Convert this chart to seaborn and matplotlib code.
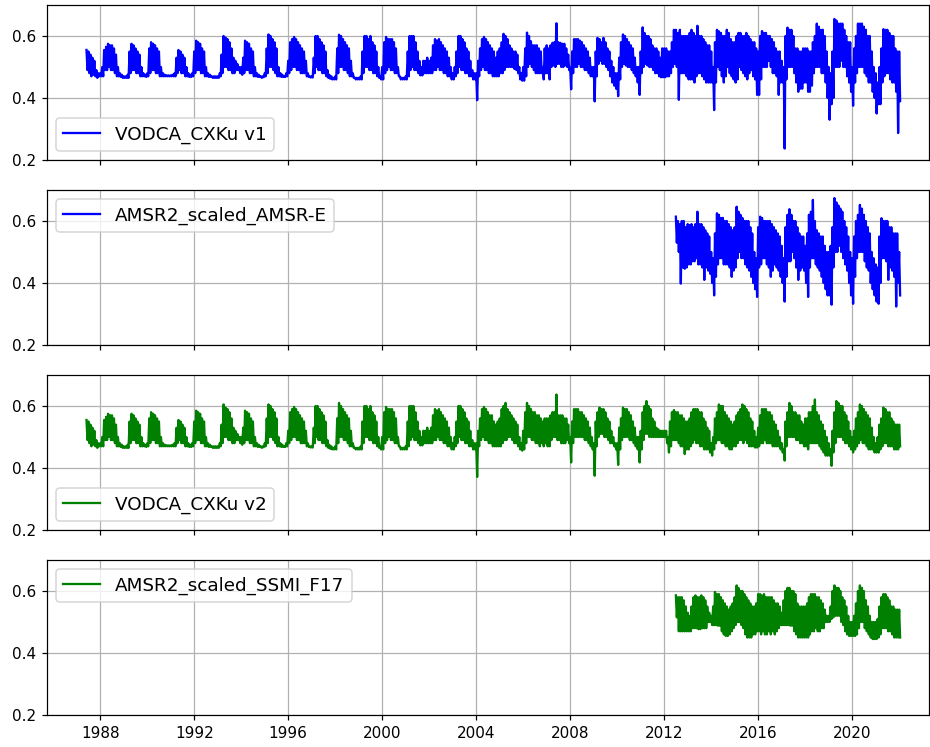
import numpy as np
import pandas as pd
import matplotlib
matplotlib.use("Agg")
import matplotlib.pyplot as plt
import matplotlib.dates as mdates
import seaborn as sns

# ---------------- data: monthly upper / lower excursions ----------------
# VODCA_CXKu v1, months from 1987-06 to 2022-01
v1_start = "1987-06-01"
v1_hi = [
    0.555, 0.55, 0.54, 0.53, 0.52, 0.49, 0.48,
    0.48, 0.50, 0.555, 0.565, 0.575, 0.57, 0.57, 0.56, 0.54, 0.50, 0.48, 0.475,
    0.47, 0.47, 0.475, 0.55, 0.575, 0.57, 0.56, 0.55, 0.54, 0.50, 0.48, 0.475,
    0.48, 0.56, 0.58, 0.575, 0.57, 0.56, 0.55, 0.50, 0.48, 0.475, 0.473, 0.473,
    0.473, 0.475, 0.48, 0.53, 0.555, 0.55, 0.54, 0.53, 0.50, 0.48, 0.475, 0.48,
    0.55, 0.585, 0.58, 0.575, 0.56, 0.55, 0.50, 0.48, 0.475, 0.47, 0.47, 0.47,
    0.47, 0.48, 0.54, 0.60, 0.595, 0.59, 0.58, 0.56, 0.53, 0.52, 0.51, 0.50,
    0.50, 0.53, 0.585, 0.58, 0.575, 0.56, 0.55, 0.50, 0.48, 0.475, 0.47, 0.47,
    0.48, 0.56, 0.605, 0.60, 0.59, 0.58, 0.56, 0.50, 0.48, 0.475, 0.47, 0.48,
    0.52, 0.58, 0.59, 0.597, 0.59, 0.58, 0.57, 0.56, 0.55, 0.52, 0.48, 0.47,
    0.47, 0.53, 0.60, 0.60, 0.59, 0.58, 0.57, 0.55, 0.49, 0.475, 0.47, 0.465,
    0.47, 0.56, 0.604, 0.60, 0.59, 0.58, 0.57, 0.56, 0.52, 0.48, 0.465, 0.465,
    0.465, 0.47, 0.55, 0.60, 0.60, 0.59, 0.60, 0.58, 0.57, 0.55, 0.50, 0.47,
    0.50, 0.58, 0.597, 0.59, 0.59, 0.59, 0.58, 0.56, 0.50, 0.47, 0.465, 0.465,
    0.47, 0.55, 0.60, 0.60, 0.60, 0.58, 0.55, 0.52, 0.50, 0.52, 0.52, 0.53,
    0.52, 0.53, 0.57, 0.59, 0.585, 0.59, 0.58, 0.57, 0.56, 0.55, 0.53, 0.50,
    0.48, 0.50, 0.55, 0.60, 0.60, 0.59, 0.58, 0.56, 0.55, 0.52, 0.49, 0.48,
    0.48, 0.52, 0.56, 0.59, 0.597, 0.59, 0.58, 0.57, 0.56, 0.55, 0.53, 0.55,
    0.56, 0.58, 0.607, 0.60, 0.59, 0.57, 0.56, 0.55, 0.55, 0.54, 0.50, 0.48,
    0.50, 0.56, 0.611, 0.60, 0.583, 0.57, 0.57, 0.57, 0.56, 0.55, 0.50, 0.56,
    0.57, 0.56, 0.57, 0.578, 0.58, 0.641, 0.58, 0.578, 0.575, 0.575, 0.56, 0.54,
    0.50, 0.55, 0.59, 0.59, 0.59, 0.585, 0.58, 0.57, 0.56, 0.55, 0.53, 0.50,
    0.50, 0.55, 0.594, 0.59, 0.58, 0.594, 0.58, 0.56, 0.55, 0.52, 0.50, 0.48,
    0.48, 0.53, 0.58, 0.605, 0.60, 0.59, 0.58, 0.57, 0.56, 0.53, 0.50, 0.50,
    0.55, 0.628, 0.61, 0.60, 0.60, 0.59, 0.57, 0.56, 0.56, 0.55, 0.53, 0.56,
    0.56, 0.56, 0.55, 0.55, 0.58, 0.62, 0.62, 0.61, 0.62, 0.60, 0.60, 0.60,
    0.60, 0.61, 0.62, 0.61, 0.60, 0.633, 0.60, 0.60, 0.59, 0.58, 0.57, 0.57,
    0.55, 0.50, 0.58, 0.62, 0.615, 0.61, 0.60, 0.60, 0.62, 0.61, 0.59, 0.58,
    0.58, 0.60, 0.61, 0.61, 0.60, 0.60, 0.61, 0.60, 0.59, 0.58, 0.58, 0.56,
    0.55, 0.60, 0.616, 0.61, 0.61, 0.60, 0.60, 0.59, 0.58, 0.56, 0.55, 0.55,
    0.52, 0.50, 0.60, 0.627, 0.62, 0.62, 0.60, 0.56, 0.56, 0.55, 0.55, 0.56,
    0.56, 0.56, 0.55, 0.55, 0.58, 0.60, 0.64, 0.63, 0.62, 0.62, 0.60, 0.55,
    0.50, 0.48, 0.55, 0.655, 0.65, 0.64, 0.64, 0.64, 0.62, 0.60, 0.58, 0.58,
    0.50, 0.56, 0.60, 0.64, 0.64, 0.64, 0.63, 0.62, 0.60, 0.60, 0.55, 0.50,
    0.48, 0.45, 0.50, 0.56, 0.622, 0.62, 0.62, 0.61, 0.60, 0.60, 0.56, 0.55,
    0.55,
]
v1_lo = [
    0.49, 0.48, 0.47, 0.475, 0.47, 0.465, 0.47,
    0.47, 0.47, 0.49, 0.49, 0.50, 0.49, 0.49, 0.48, 0.47, 0.47, 0.468, 0.465,
    0.465, 0.465, 0.465, 0.48, 0.49, 0.49, 0.48, 0.48, 0.47, 0.47, 0.47, 0.468,
    0.47, 0.48, 0.49, 0.49, 0.48, 0.48, 0.47, 0.47, 0.47, 0.47, 0.47, 0.47,
    0.47, 0.47, 0.47, 0.48, 0.49, 0.48, 0.48, 0.47, 0.47, 0.468, 0.468, 0.47,
    0.48, 0.49, 0.49, 0.48, 0.48, 0.47, 0.47, 0.468, 0.468, 0.465, 0.465, 0.465,
    0.465, 0.47, 0.48, 0.50, 0.50, 0.49, 0.49, 0.48, 0.48, 0.49, 0.49, 0.48,
    0.475, 0.48, 0.49, 0.49, 0.48, 0.48, 0.47, 0.47, 0.468, 0.468, 0.465, 0.467,
    0.47, 0.48, 0.50, 0.50, 0.49, 0.48, 0.47, 0.47, 0.468, 0.468, 0.468, 0.47,
    0.48, 0.49, 0.50, 0.50, 0.49, 0.49, 0.48, 0.48, 0.48, 0.47, 0.468, 0.466,
    0.466, 0.48, 0.50, 0.49, 0.49, 0.48, 0.48, 0.47, 0.465, 0.462, 0.46, 0.46,
    0.46, 0.48, 0.50, 0.50, 0.49, 0.49, 0.48, 0.47, 0.47, 0.465, 0.46, 0.46,
    0.46, 0.46, 0.48, 0.50, 0.50, 0.49, 0.49, 0.48, 0.48, 0.47, 0.465, 0.46,
    0.46, 0.48, 0.49, 0.50, 0.49, 0.49, 0.48, 0.48, 0.47, 0.46, 0.46, 0.46,
    0.46, 0.47, 0.49, 0.50, 0.49, 0.49, 0.48, 0.473, 0.473, 0.48, 0.48, 0.48,
    0.48, 0.48, 0.49, 0.49, 0.50, 0.49, 0.49, 0.48, 0.48, 0.47, 0.47, 0.46,
    0.46, 0.47, 0.48, 0.50, 0.49, 0.49, 0.48, 0.48, 0.47, 0.47, 0.46, 0.46,
    0.393, 0.47, 0.49, 0.50, 0.49, 0.49, 0.48, 0.48, 0.47, 0.47, 0.47, 0.47,
    0.48, 0.48, 0.49, 0.50, 0.50, 0.50, 0.50, 0.494, 0.49, 0.48, 0.46, 0.456,
    0.456, 0.47, 0.50, 0.51, 0.50, 0.49, 0.48, 0.48, 0.48, 0.48, 0.46, 0.48,
    0.48, 0.46, 0.50, 0.505, 0.50, 0.51, 0.51, 0.50, 0.50, 0.505, 0.50, 0.49,
    0.428, 0.48, 0.50, 0.50, 0.51, 0.50, 0.50, 0.49, 0.49, 0.48, 0.47, 0.47,
    0.389, 0.47, 0.51, 0.52, 0.51, 0.51, 0.50, 0.49, 0.47, 0.45, 0.44, 0.43,
    0.406, 0.46, 0.50, 0.51, 0.505, 0.50, 0.50, 0.49, 0.48, 0.47, 0.45, 0.41,
    0.48, 0.50, 0.51, 0.505, 0.50, 0.50, 0.49, 0.48, 0.48, 0.47, 0.467, 0.467,
    0.467, 0.47, 0.47, 0.48, 0.50, 0.51, 0.50, 0.394, 0.48, 0.48, 0.48, 0.47,
    0.46, 0.46, 0.46, 0.45, 0.47, 0.48, 0.48, 0.47, 0.46, 0.45, 0.45, 0.45,
    0.45, 0.361, 0.45, 0.50, 0.49, 0.47, 0.45, 0.47, 0.50, 0.48, 0.47, 0.46,
    0.45, 0.46, 0.50, 0.49, 0.48, 0.47, 0.46, 0.48, 0.49, 0.47, 0.46, 0.41,
    0.41, 0.46, 0.50, 0.50, 0.50, 0.52, 0.50, 0.48, 0.48, 0.47, 0.41, 0.45,
    0.45, 0.237, 0.46, 0.50, 0.50, 0.50, 0.48, 0.45, 0.42, 0.43, 0.43, 0.45,
    0.45, 0.42, 0.42, 0.44, 0.48, 0.50, 0.50, 0.50, 0.48, 0.48, 0.45, 0.40,
    0.33, 0.38, 0.40, 0.50, 0.50, 0.50, 0.52, 0.50, 0.50, 0.47, 0.45, 0.42,
    0.375, 0.45, 0.48, 0.50, 0.50, 0.50, 0.48, 0.47, 0.45, 0.45, 0.42, 0.40,
    0.35, 0.38, 0.38, 0.45, 0.47, 0.48, 0.48, 0.46, 0.45, 0.45, 0.42, 0.287,
    0.39,
]

# AMSR2_scaled_AMSR-E, months from 2012-07 to 2022-01
amsre_start = "2012-07-01"
amsre_hi = [
    0.614, 0.60, 0.59, 0.60, 0.60, 0.58,
    0.59, 0.587, 0.59, 0.58, 0.59, 0.63, 0.59, 0.59, 0.58, 0.57, 0.56, 0.55,
    0.50, 0.48, 0.56, 0.625, 0.62, 0.61, 0.61, 0.60, 0.60, 0.59, 0.58, 0.57,
    0.58, 0.646, 0.63, 0.62, 0.61, 0.60, 0.60, 0.60, 0.58, 0.56, 0.50, 0.48,
    0.58, 0.614, 0.61, 0.60, 0.60, 0.60, 0.60, 0.59, 0.58, 0.57, 0.56, 0.55,
    0.52, 0.48, 0.58, 0.62, 0.638, 0.62, 0.60, 0.60, 0.58, 0.56, 0.55, 0.55,
    0.52, 0.56, 0.62, 0.63, 0.668, 0.60, 0.57, 0.56, 0.55, 0.55, 0.52, 0.50,
    0.50, 0.52, 0.58, 0.674, 0.66, 0.65, 0.64, 0.63, 0.60, 0.58, 0.55, 0.50,
    0.48, 0.55, 0.60, 0.62, 0.652, 0.64, 0.62, 0.60, 0.58, 0.56, 0.50, 0.48,
    0.46, 0.45, 0.55, 0.609, 0.60, 0.60, 0.60, 0.58, 0.58, 0.56, 0.56, 0.56,
    0.50,
]
amsre_lo = [
    0.53, 0.50, 0.398, 0.45, 0.446, 0.45,
    0.46, 0.46, 0.47, 0.47, 0.48, 0.46, 0.46, 0.45, 0.41, 0.45, 0.44, 0.43,
    0.40, 0.36, 0.42, 0.46, 0.48, 0.48, 0.46, 0.46, 0.46, 0.45, 0.42, 0.44,
    0.45, 0.48, 0.50, 0.48, 0.48, 0.46, 0.45, 0.44, 0.42, 0.40, 0.38, 0.355,
    0.45, 0.46, 0.48, 0.48, 0.46, 0.45, 0.42, 0.44, 0.46, 0.45, 0.44, 0.42,
    0.40, 0.34, 0.42, 0.47, 0.47, 0.50, 0.48, 0.45, 0.41, 0.44, 0.45, 0.44,
    0.40, 0.355, 0.45, 0.48, 0.48, 0.46, 0.45, 0.44, 0.42, 0.40, 0.38, 0.36,
    0.36, 0.33, 0.45, 0.50, 0.50, 0.52, 0.50, 0.48, 0.46, 0.44, 0.40, 0.36,
    0.333, 0.42, 0.48, 0.50, 0.50, 0.50, 0.47, 0.45, 0.44, 0.40, 0.38, 0.36,
    0.34, 0.333, 0.40, 0.48, 0.48, 0.47, 0.41, 0.45, 0.44, 0.42, 0.324, 0.40,
    0.36,
]

# VODCA_CXKu v2, months from 1987-06 to 2022-01
v2_start = "1987-06-01"
v2_hi = [
    0.555, 0.55, 0.54, 0.53, 0.52, 0.49, 0.48,
    0.48, 0.50, 0.555, 0.565, 0.575, 0.57, 0.57, 0.56, 0.54, 0.50, 0.48, 0.475,
    0.47, 0.47, 0.475, 0.55, 0.575, 0.57, 0.56, 0.55, 0.54, 0.50, 0.48, 0.475,
    0.48, 0.56, 0.58, 0.575, 0.57, 0.56, 0.55, 0.50, 0.48, 0.475, 0.473, 0.473,
    0.473, 0.475, 0.48, 0.53, 0.555, 0.55, 0.54, 0.53, 0.50, 0.48, 0.475, 0.48,
    0.55, 0.585, 0.58, 0.575, 0.56, 0.55, 0.50, 0.48, 0.475, 0.47, 0.47, 0.47,
    0.47, 0.48, 0.54, 0.605, 0.595, 0.59, 0.58, 0.56, 0.53, 0.52, 0.51, 0.50,
    0.50, 0.53, 0.585, 0.58, 0.575, 0.56, 0.55, 0.50, 0.48, 0.475, 0.47, 0.47,
    0.48, 0.56, 0.605, 0.60, 0.59, 0.58, 0.56, 0.50, 0.48, 0.475, 0.47, 0.48,
    0.52, 0.58, 0.59, 0.597, 0.59, 0.58, 0.57, 0.56, 0.55, 0.52, 0.48, 0.47,
    0.47, 0.53, 0.60, 0.60, 0.59, 0.58, 0.57, 0.55, 0.49, 0.475, 0.47, 0.465,
    0.47, 0.56, 0.61, 0.60, 0.59, 0.58, 0.57, 0.56, 0.52, 0.48, 0.465, 0.465,
    0.465, 0.47, 0.55, 0.60, 0.60, 0.59, 0.60, 0.58, 0.57, 0.55, 0.50, 0.47,
    0.50, 0.58, 0.597, 0.59, 0.59, 0.59, 0.58, 0.56, 0.50, 0.47, 0.465, 0.465,
    0.47, 0.55, 0.60, 0.60, 0.60, 0.58, 0.55, 0.52, 0.50, 0.52, 0.52, 0.53,
    0.52, 0.53, 0.57, 0.59, 0.585, 0.59, 0.58, 0.57, 0.56, 0.55, 0.53, 0.50,
    0.48, 0.50, 0.55, 0.60, 0.60, 0.59, 0.58, 0.56, 0.55, 0.52, 0.49, 0.48,
    0.48, 0.52, 0.56, 0.59, 0.597, 0.59, 0.58, 0.57, 0.57, 0.55, 0.54, 0.55,
    0.56, 0.59, 0.60, 0.61, 0.59, 0.58, 0.57, 0.56, 0.55, 0.54, 0.50, 0.48,
    0.52, 0.58, 0.61, 0.60, 0.59, 0.58, 0.58, 0.57, 0.57, 0.56, 0.55, 0.56,
    0.56, 0.56, 0.57, 0.58, 0.58, 0.637, 0.57, 0.57, 0.57, 0.56, 0.56, 0.54,
    0.50, 0.55, 0.59, 0.59, 0.59, 0.58, 0.58, 0.57, 0.56, 0.55, 0.53, 0.50,
    0.48, 0.55, 0.58, 0.595, 0.59, 0.59, 0.58, 0.56, 0.55, 0.52, 0.50, 0.48,
    0.48, 0.53, 0.56, 0.595, 0.59, 0.59, 0.58, 0.57, 0.55, 0.53, 0.50, 0.50,
    0.52, 0.58, 0.60, 0.616, 0.60, 0.59, 0.56, 0.55, 0.53, 0.525, 0.52, 0.52,
    0.52, 0.52, 0.50, 0.55, 0.58, 0.587, 0.58, 0.58, 0.57, 0.57, 0.56, 0.55,
    0.55, 0.56, 0.58, 0.59, 0.59, 0.59, 0.58, 0.58, 0.56, 0.55, 0.53, 0.52,
    0.48, 0.50, 0.56, 0.58, 0.605, 0.60, 0.60, 0.58, 0.57, 0.56, 0.55, 0.54,
    0.55, 0.57, 0.58, 0.59, 0.605, 0.60, 0.59, 0.58, 0.56, 0.55, 0.52, 0.50,
    0.53, 0.57, 0.59, 0.59, 0.59, 0.58, 0.58, 0.57, 0.55, 0.54, 0.52, 0.50,
    0.48, 0.46, 0.55, 0.58, 0.61, 0.60, 0.58, 0.58, 0.57, 0.57, 0.55, 0.54,
    0.56, 0.56, 0.58, 0.58, 0.60, 0.621, 0.58, 0.57, 0.55, 0.54, 0.52, 0.50,
    0.48, 0.46, 0.52, 0.58, 0.616, 0.61, 0.60, 0.60, 0.58, 0.57, 0.55, 0.52,
    0.50, 0.52, 0.56, 0.58, 0.605, 0.60, 0.59, 0.58, 0.57, 0.56, 0.53, 0.50,
    0.48, 0.50, 0.54, 0.56, 0.595, 0.59, 0.58, 0.58, 0.56, 0.55, 0.54, 0.54,
    0.54,
]
v2_lo = [
    0.49, 0.48, 0.47, 0.475, 0.47, 0.465, 0.47,
    0.47, 0.47, 0.49, 0.49, 0.50, 0.49, 0.49, 0.48, 0.47, 0.47, 0.468, 0.465,
    0.465, 0.465, 0.465, 0.48, 0.49, 0.49, 0.48, 0.48, 0.47, 0.47, 0.47, 0.468,
    0.47, 0.48, 0.49, 0.49, 0.48, 0.48, 0.47, 0.47, 0.47, 0.47, 0.47, 0.47,
    0.47, 0.47, 0.47, 0.48, 0.49, 0.48, 0.48, 0.47, 0.47, 0.468, 0.468, 0.47,
    0.48, 0.49, 0.49, 0.48, 0.48, 0.47, 0.47, 0.468, 0.468, 0.465, 0.465, 0.465,
    0.465, 0.47, 0.48, 0.50, 0.50, 0.49, 0.49, 0.48, 0.48, 0.49, 0.49, 0.48,
    0.475, 0.48, 0.49, 0.49, 0.48, 0.48, 0.47, 0.47, 0.468, 0.468, 0.465, 0.467,
    0.47, 0.48, 0.50, 0.50, 0.49, 0.48, 0.47, 0.47, 0.468, 0.468, 0.468, 0.47,
    0.48, 0.49, 0.50, 0.50, 0.49, 0.49, 0.48, 0.48, 0.48, 0.47, 0.468, 0.466,
    0.466, 0.48, 0.50, 0.49, 0.49, 0.48, 0.48, 0.47, 0.465, 0.462, 0.46, 0.46,
    0.46, 0.48, 0.50, 0.50, 0.49, 0.49, 0.48, 0.47, 0.47, 0.465, 0.46, 0.46,
    0.46, 0.46, 0.48, 0.50, 0.50, 0.49, 0.49, 0.48, 0.48, 0.47, 0.465, 0.46,
    0.46, 0.48, 0.49, 0.50, 0.49, 0.49, 0.48, 0.48, 0.47, 0.46, 0.46, 0.46,
    0.46, 0.47, 0.49, 0.50, 0.49, 0.49, 0.48, 0.473, 0.473, 0.48, 0.48, 0.48,
    0.48, 0.48, 0.49, 0.49, 0.50, 0.49, 0.49, 0.48, 0.48, 0.47, 0.47, 0.46,
    0.46, 0.47, 0.48, 0.50, 0.49, 0.49, 0.48, 0.48, 0.47, 0.47, 0.46, 0.46,
    0.371, 0.47, 0.49, 0.50, 0.49, 0.49, 0.48, 0.48, 0.47, 0.47, 0.47, 0.47,
    0.47, 0.48, 0.49, 0.49, 0.50, 0.50, 0.49, 0.48, 0.48, 0.47, 0.46, 0.456,
    0.46, 0.48, 0.50, 0.50, 0.49, 0.49, 0.48, 0.48, 0.47, 0.48, 0.47, 0.48,
    0.47, 0.47, 0.49, 0.50, 0.50, 0.49, 0.49, 0.48, 0.48, 0.48, 0.49, 0.48,
    0.418, 0.48, 0.50, 0.50, 0.50, 0.50, 0.50, 0.49, 0.49, 0.48, 0.47, 0.46,
    0.375, 0.47, 0.50, 0.51, 0.51, 0.50, 0.50, 0.49, 0.48, 0.48, 0.47, 0.46,
    0.41, 0.46, 0.49, 0.50, 0.50, 0.50, 0.49, 0.49, 0.48, 0.47, 0.46, 0.418,
    0.46, 0.49, 0.51, 0.51, 0.50, 0.50, 0.50, 0.50, 0.50, 0.50, 0.50, 0.50,
    0.50, 0.48, 0.45, 0.47, 0.49, 0.49, 0.49, 0.48, 0.47, 0.47, 0.445, 0.46,
    0.46, 0.47, 0.48, 0.49, 0.48, 0.48, 0.47, 0.47, 0.46, 0.46, 0.46, 0.45,
    0.44, 0.46, 0.48, 0.49, 0.49, 0.48, 0.48, 0.47, 0.47, 0.46, 0.46, 0.47,
    0.47, 0.48, 0.49, 0.49, 0.48, 0.49, 0.48, 0.47, 0.47, 0.47, 0.466, 0.466,
    0.47, 0.48, 0.48, 0.49, 0.48, 0.48, 0.48, 0.47, 0.47, 0.47, 0.47, 0.46,
    0.45, 0.424, 0.47, 0.50, 0.50, 0.50, 0.50, 0.49, 0.49, 0.48, 0.48, 0.47,
    0.47, 0.46, 0.48, 0.48, 0.48, 0.48, 0.48, 0.47, 0.46, 0.45, 0.44, 0.44,
    0.44, 0.407, 0.45, 0.48, 0.50, 0.50, 0.50, 0.49, 0.48, 0.48, 0.47, 0.46,
    0.45, 0.46, 0.47, 0.48, 0.49, 0.48, 0.48, 0.47, 0.46, 0.46, 0.46, 0.45,
    0.45, 0.45, 0.46, 0.47, 0.48, 0.48, 0.47, 0.47, 0.47, 0.46, 0.46, 0.46,
    0.47,
]

# AMSR2_scaled_SSMI_F17, months from 2012-07 to 2022-01
ssmi_start = "2012-07-01"
ssmi_hi = [
    0.586, 0.58, 0.58, 0.58, 0.57, 0.55,
    0.53, 0.52, 0.55, 0.58, 0.586, 0.58, 0.58, 0.586, 0.58, 0.57, 0.55, 0.53,
    0.52, 0.55, 0.597, 0.59, 0.59, 0.58, 0.57, 0.56, 0.55, 0.54, 0.55, 0.56,
    0.58, 0.618, 0.61, 0.60, 0.60, 0.59, 0.58, 0.57, 0.56, 0.55, 0.55, 0.56,
    0.59, 0.59, 0.585, 0.59, 0.58, 0.58, 0.58, 0.58, 0.57, 0.56, 0.56, 0.55,
    0.53, 0.57, 0.60, 0.61, 0.61, 0.60, 0.60, 0.59, 0.56, 0.55, 0.55, 0.55,
    0.55, 0.56, 0.58, 0.59, 0.59, 0.59, 0.58, 0.58, 0.57, 0.56, 0.54, 0.52,
    0.52, 0.55, 0.60, 0.618, 0.61, 0.61, 0.60, 0.58, 0.57, 0.55, 0.52, 0.50,
    0.50, 0.52, 0.56, 0.60, 0.618, 0.61, 0.60, 0.57, 0.55, 0.52, 0.50, 0.50,
    0.50, 0.51, 0.55, 0.58, 0.59, 0.59, 0.58, 0.57, 0.55, 0.55, 0.54, 0.54,
    0.54,
]
ssmi_lo = [
    0.515, 0.47, 0.47, 0.47, 0.47, 0.47,
    0.47, 0.47, 0.48, 0.48, 0.48, 0.477, 0.477, 0.48, 0.48, 0.48, 0.50, 0.50,
    0.49, 0.49, 0.49, 0.488, 0.488, 0.47, 0.46, 0.455, 0.455, 0.46, 0.47, 0.48,
    0.49, 0.50, 0.50, 0.49, 0.48, 0.46, 0.45, 0.45, 0.45, 0.46, 0.46, 0.47,
    0.47, 0.46, 0.47, 0.46, 0.46, 0.47, 0.46, 0.47, 0.46, 0.47, 0.48, 0.49,
    0.49, 0.49, 0.49, 0.49, 0.488, 0.488, 0.47, 0.46, 0.45, 0.45, 0.45, 0.45,
    0.45, 0.45, 0.46, 0.47, 0.47, 0.48, 0.47, 0.47, 0.48, 0.48, 0.50, 0.50,
    0.50, 0.51, 0.515, 0.52, 0.52, 0.52, 0.50, 0.49, 0.47, 0.46, 0.455, 0.455,
    0.455, 0.455, 0.46, 0.48, 0.50, 0.50, 0.48, 0.47, 0.46, 0.45, 0.445, 0.445,
    0.445, 0.45, 0.46, 0.48, 0.48, 0.48, 0.47, 0.47, 0.46, 0.45, 0.45, 0.45,
    0.45,
]

series_labels = ["VODCA_CXKu v1", "AMSR2_scaled_AMSR-E", "VODCA_CXKu v2", "AMSR2_scaled_SSMI_F17"]
series_hi = [v1_hi, amsre_hi, v2_hi, ssmi_hi]
series_lo = [v1_lo, amsre_lo, v2_lo, ssmi_lo]
series_starts = [v1_start, amsre_start, v2_start, ssmi_start]
series_colors = ["blue", "blue", "green", "green"]
legend_locs = ["lower left", "upper left", "lower left", "upper left"]


def build_frame(start, hi, lo):
    """Readings of the upper excursion at the start of each month and of the
    lower excursion in the middle of it, in time order."""
    months = pd.date_range(start, periods=len(hi), freq="MS")
    up = pd.DataFrame({"time": months, "vod": hi})
    dn = pd.DataFrame({"time": months + pd.Timedelta(days=15), "vod": lo})
    return pd.concat([up, dn]).sort_values("time").reset_index(drop=True)


# ---------------- figure ----------------
DPI = 110
fig, axes = plt.subplots(4, 1, sharex=True, figsize=(931 / DPI, 747 / DPI), dpi=DPI)
fig.subplots_adjust(left=47 / 931, right=929 / 931, top=1 - 5 / 747,
                    bottom=1 - 715 / 747, hspace=0.1935)

for ax, lab, hi, lo, start, col, loc in zip(axes, series_labels, series_hi, series_lo,
                                            series_starts, series_colors, legend_locs):
    assert len(hi) == len(lo)
    df = build_frame(start, hi, lo)
    sns.lineplot(data=df, x="time", y="vod", ax=ax, color=col, linewidth=1.5,
                 label=lab, estimator=None, sort=False)
    ax.set_ylim(0.2, 0.7)
    ax.set_yticks([0.2, 0.4, 0.6])
    ax.grid(True, color="#b0b0b0", linewidth=0.8)
    ax.set_xlabel("")
    ax.set_ylabel("")
    ax.legend(loc=loc, fontsize=12)

axes[-1].set_xlim(pd.Timestamp("1985-09-25"), pd.Timestamp("2023-04-10"))
axes[-1].xaxis.set_major_locator(mdates.YearLocator(4))
axes[-1].xaxis.set_major_formatter(mdates.DateFormatter("%Y"))

fig.savefig("out.png", dpi=DPI)
